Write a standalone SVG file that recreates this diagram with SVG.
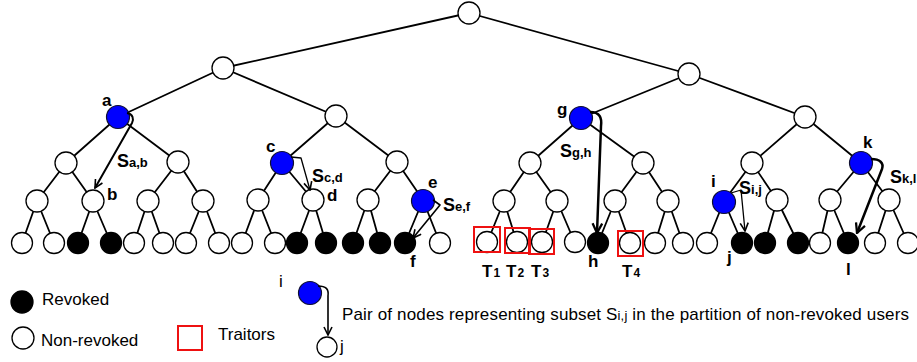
<svg xmlns="http://www.w3.org/2000/svg" width="917" height="362" viewBox="0 0 917 362">
  <style>
    .n { fill: #fff; stroke: #000; stroke-width: 1.3; }
    .r { fill: #000; stroke: #000; stroke-width: 1.3; }
    .b { fill: #0000ff; stroke: #101030; stroke-width: 1.2; }
    .e { stroke: #000; stroke-width: 1.8; fill: none; }
    .arr { stroke: #000; fill: none; stroke-linejoin: round; }
    .trait { fill: none; stroke: #ee1111; stroke-width: 2; }
    .lbl { font-family: "Liberation Sans", Arial, sans-serif; font-weight: bold; font-size: 17px; fill: #000; }
    .s { font-family: "Liberation Sans", Arial, sans-serif; font-weight: bold; font-size: 18px; fill: #000; }
    .sub { font-size: 13px; }
    .tsub { font-family: "Liberation Sans", Arial, sans-serif; font-weight: bold; font-size: 12px; fill: #000; }
    .leg { font-family: "Liberation Sans", Arial, sans-serif; font-size: 17px; fill: #000; }
  </style>
  <defs>
    <marker id="head" viewBox="0 0 10 10" refX="9" refY="5" markerWidth="10" markerHeight="10" markerUnits="userSpaceOnUse" orient="auto">
      <path d="M1,1 L9,5 L1,9" fill="none" stroke="#000" stroke-width="1.6"/>
    </marker>
    <marker id="headBig" viewBox="0 0 10 10" refX="9" refY="5" markerWidth="12" markerHeight="12" markerUnits="userSpaceOnUse" orient="auto">
      <path d="M1,1 L9,5 L1,9" fill="none" stroke="#000" stroke-width="1.9"/>
    </marker>
  </defs>

  <!-- tree edges -->
  <g id="edges" class="e">
    <path d="M469,13 L223,68 M469,13 L689,74"/>
    <path d="M223,68 L118,117 M223,68 L336,116 M689,74 L581,118 M689,74 L805,117"/>
    <path d="M118,117 L66,163 M118,117 L178,162 M336,116 L282,163 M336,116 L397,162 M581,118 L530,163 M581,118 L643,163 M805,117 L752,163 M805,117 L861,163"/>
    <path d="M66,163 L37,201 M66,163 L93,201 M178,162 L148,201 M178,162 L203,201 M282,163 L258,200 M282,163 L313,200 M397,162 L368,200 M397,162 L423,200 M530,163 L504,201 M530,163 L557,201 M643,163 L615,201 M643,163 L668,201 M752,163 L724,201 M752,163 L777,200 M861,163 L830,200 M861,163 L889,200"/>
    <path d="M37,201 L22,243 M37,201 L54,243 M93,201 L78,243 M93,201 L111,243 M148,201 L134,243 M148,201 L163,243 M203,201 L186,243 M203,201 L219,243"/>
    <path d="M258,200 L242,243 M258,200 L275,243 M313,200 L297,243 M313,200 L326,243 M368,200 L353,243 M368,200 L380,243 M423,200 L405,243 M423,200 L440,243"/>
    <path d="M504,201 L487,243 M504,201 L517,243 M557,201 L542,243 M557,201 L575,243 M615,201 L598,243 M615,201 L630,243 M668,201 L655,243 M668,201 L683,243"/>
    <path d="M724,201 L707,243 M724,201 L742,243 M777,200 L765,243 M777,200 L798,243 M830,200 L820,243 M830,200 L848,243 M889,200 L875,243 M889,200 L908,243"/>
  </g>

  <!-- internal nodes -->
  <g id="root"><circle class="n" cx="469" cy="13" r="11"/></g>
  <g id="n-l"><circle class="n" cx="223" cy="68" r="11"/></g>
  <g id="n-r"><circle class="n" cx="689" cy="74" r="11"/></g>
  <g id="node-a"><circle class="b" cx="118" cy="117" r="11.5"/><text class="lbl" x="102" y="106">a</text></g>
  <g id="n-lr"><circle class="n" cx="336" cy="116" r="11"/></g>
  <g id="node-g"><circle class="b" cx="581" cy="118" r="11.5"/><text class="lbl" x="557" y="115">g</text></g>
  <g id="n-rr"><circle class="n" cx="805" cy="117" r="11"/></g>
  <g id="n3-1"><circle class="n" cx="66" cy="163" r="11"/></g>
  <g id="n3-2"><circle class="n" cx="178" cy="162" r="11"/></g>
  <g id="node-c"><circle class="b" cx="282" cy="163" r="11.5"/><text class="lbl" x="266" y="152">c</text></g>
  <g id="n3-4"><circle class="n" cx="397" cy="162" r="11"/></g>
  <g id="n3-5"><circle class="n" cx="530" cy="163" r="11"/></g>
  <g id="n3-6"><circle class="n" cx="643" cy="163" r="11"/></g>
  <g id="n3-7"><circle class="n" cx="752" cy="163" r="11"/></g>
  <g id="node-k"><circle class="b" cx="861" cy="163" r="11.5"/><text class="lbl" x="863" y="148">k</text></g>
  <g id="n4-1"><circle class="n" cx="37" cy="201" r="11"/></g>
  <g id="node-b"><circle class="n" cx="93" cy="201" r="11"/><text class="lbl" x="107" y="200">b</text></g>
  <g id="n4-3"><circle class="n" cx="148" cy="201" r="11"/></g>
  <g id="n4-4"><circle class="n" cx="203" cy="201" r="11"/></g>
  <g id="n4-5"><circle class="n" cx="258" cy="200" r="11"/></g>
  <g id="node-d"><circle class="n" cx="313" cy="200" r="11"/><text class="lbl" x="327" y="201">d</text></g>
  <g id="n4-7"><circle class="n" cx="368" cy="200" r="11"/></g>
  <g id="node-e"><circle class="b" cx="423" cy="201" r="11.5"/><text class="lbl" x="428" y="188">e</text></g>
  <g id="n4-9"><circle class="n" cx="504" cy="201" r="11"/></g>
  <g id="n4-10"><circle class="n" cx="557" cy="201" r="11"/></g>
  <g id="n4-11"><circle class="n" cx="615" cy="201" r="11"/></g>
  <g id="n4-12"><circle class="n" cx="668" cy="201" r="11"/></g>
  <g id="node-i"><circle class="b" cx="724" cy="202" r="11.5"/><text class="lbl" x="711" y="187">i</text></g>
  <g id="n4-14"><circle class="n" cx="777" cy="200" r="11"/></g>
  <g id="n4-15"><circle class="n" cx="830" cy="200" r="11"/></g>
  <g id="n4-16"><circle class="n" cx="889" cy="200" r="11"/></g>

  <!-- leaves (users) -->
  <g id="u1"><circle class="n" cx="22" cy="243" r="10.5"/></g>
  <g id="u2"><circle class="n" cx="54" cy="243" r="10.5"/></g>
  <g id="u3"><circle class="r" cx="78" cy="243" r="10.5"/></g>
  <g id="u4"><circle class="r" cx="111" cy="243" r="10.5"/></g>
  <g id="u5"><circle class="n" cx="134" cy="243" r="10.5"/></g>
  <g id="u6"><circle class="n" cx="163" cy="243" r="10.5"/></g>
  <g id="u7"><circle class="n" cx="186" cy="243" r="10.5"/></g>
  <g id="u8"><circle class="n" cx="219" cy="243" r="10.5"/></g>
  <g id="u9"><circle class="n" cx="242" cy="243" r="10.5"/></g>
  <g id="u10"><circle class="n" cx="275" cy="243" r="10.5"/></g>
  <g id="u11"><circle class="r" cx="297" cy="243" r="10.5"/></g>
  <g id="u12"><circle class="r" cx="326" cy="243" r="10.5"/></g>
  <g id="u13"><circle class="r" cx="353" cy="243" r="10.5"/></g>
  <g id="u14"><circle class="r" cx="380" cy="243" r="10.5"/></g>
  <g id="node-f"><circle class="r" cx="405" cy="243" r="10.5"/><text class="lbl" x="410" y="267">f</text></g>
  <g id="u16"><circle class="n" cx="440" cy="243" r="10.5"/></g>
  <g id="u17"><circle class="n" cx="487" cy="242" r="10.5"/></g>
  <g id="u18"><circle class="n" cx="517" cy="242" r="10.5"/></g>
  <g id="u19"><circle class="n" cx="542" cy="242" r="10.5"/></g>
  <g id="u20"><circle class="n" cx="575" cy="242" r="10.5"/></g>
  <g id="node-h"><circle class="r" cx="598" cy="243" r="10.5"/><text class="lbl" x="588" y="267">h</text></g>
  <g id="u22"><circle class="n" cx="630" cy="243" r="10.5"/></g>
  <g id="u23"><circle class="n" cx="655" cy="243" r="10.5"/></g>
  <g id="u24"><circle class="n" cx="683" cy="243" r="10.5"/></g>
  <g id="u25"><circle class="n" cx="707" cy="243" r="10.5"/></g>
  <g id="node-j"><circle class="r" cx="742" cy="243" r="10.5"/><text class="lbl" x="727" y="263">j</text></g>
  <g id="u27"><circle class="r" cx="765" cy="243" r="10.5"/></g>
  <g id="u28"><circle class="r" cx="798" cy="243" r="10.5"/></g>
  <g id="u29"><circle class="n" cx="820" cy="243" r="10.5"/></g>
  <g id="node-l"><circle class="r" cx="848" cy="243" r="10.5"/><text class="lbl" x="846" y="275">l</text></g>
  <g id="u31"><circle class="n" cx="875" cy="243" r="10.5"/></g>
  <g id="u32"><circle class="n" cx="908" cy="243" r="10.5"/></g>

  <!-- traitor markers -->
  <g id="traitors">
    <rect class="trait" x="474" y="227" width="26" height="25"/>
    <rect class="trait" x="505" y="228" width="25" height="25"/>
    <rect class="trait" x="529" y="229" width="25" height="25"/>
    <rect class="trait" x="618" y="231" width="25" height="25"/>
    <text class="lbl" x="482" y="277">T<tspan class="tsub" dx="1">1</tspan></text>
    <text class="lbl" x="506" y="277">T<tspan class="tsub" dx="1">2</tspan></text>
    <text class="lbl" x="531" y="277">T<tspan class="tsub" dx="1">3</tspan></text>
    <text class="lbl" x="622" y="277">T<tspan class="tsub" dx="1">4</tspan></text>
  </g>

  <!-- subset arrows S(i,j) -->
  <g id="subset-arrows">
    <path class="arr" stroke-width="2" marker-end="url(#head)" d="M127,113 C133,114 134,119 132,123 L95,188"/>
    <path class="arr" stroke-width="1.3" marker-end="url(#head)" d="M291,157 L301,158 L310,190"/>
    <path class="arr" stroke-width="1.6" marker-end="url(#head)" d="M433,200 L440,205 L413,238"/>
    <path class="arr" stroke-width="2.5" marker-end="url(#headBig)" d="M590,112 C600,112 602,118 601,126 L597,233"/>
    <path class="arr" stroke-width="1.3" marker-end="url(#head)" d="M731,193 L741,190 L745,231"/>
    <path class="arr" stroke-width="2.5" marker-end="url(#headBig)" d="M871,159 C880,159 884,163 882,169 L857,233"/>
    <text class="s" x="117" y="167">S<tspan class="sub">a,b</tspan></text>
    <text class="s" x="312" y="182">S<tspan class="sub">c,d</tspan></text>
    <text class="s" x="443" y="211">S<tspan class="sub">e,f</tspan></text>
    <text class="s" x="560" y="157">S<tspan class="sub">g,h</tspan></text>
    <text class="s" x="739" y="194">S<tspan class="sub">i,j</tspan></text>
    <text class="s" x="890" y="183">S<tspan class="sub">k,l</tspan></text>
  </g>

  <!-- legend -->
  <g id="legend-revoked">
    <circle class="r" cx="22" cy="302" r="11"/>
    <text class="leg" x="42" y="305">Revoked</text>
  </g>
  <g id="legend-nonrevoked">
    <circle class="n" cx="23" cy="338" r="11"/>
    <text class="leg" x="41" y="346">Non-revoked</text>
  </g>
  <g id="legend-traitors">
    <rect class="trait" x="178" y="326" width="24" height="24"/>
    <text class="leg" x="218" y="340">Traitors</text>
  </g>
  <g id="legend-pair">
    <circle class="b" cx="310" cy="293" r="11.5"/>
    <text class="leg" x="279" y="287" font-size="16">i</text>
    <path class="arr" stroke-width="1.6" marker-end="url(#head)" d="M318,286 C326,286 329,289 328,296 L328,335"/>
    <circle class="n" cx="327" cy="347" r="10"/>
    <text class="leg" x="340" y="352" font-size="16">j</text>
    <text class="leg" x="342" y="320" font-size="17.3" textLength="567" lengthAdjust="spacing">Pair of nodes representing subset S<tspan font-size="13">i,j</tspan> in the partition of non-revoked users</text>
  </g>
</svg>
